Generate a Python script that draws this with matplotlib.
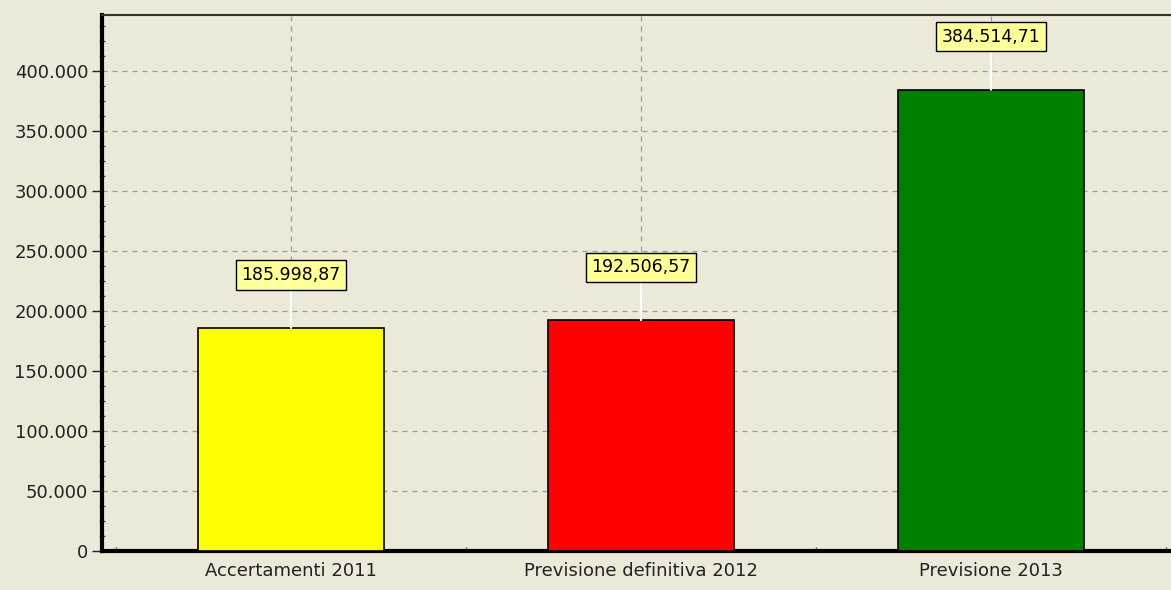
import numpy as np
import matplotlib
matplotlib.use("Agg")
import matplotlib.pyplot as plt
from matplotlib.ticker import MultipleLocator, FuncFormatter

# Chart data
categories = ["Accertamenti 2011", "Previsione definitiva 2012", "Previsione 2013"]
values = [185998.87, 192506.57, 384514.71]
bar_colors = ["#FFFF00", "#FF0000", "#008000"]


def fmt_thousands(v, pos=None):
  # Italian style: dot as thousands separator
  return "{:,.0f}".format(v).replace(",", ".")


def fmt_value(v):
  s = "{:,.2f}".format(v)
  return s.replace(",", "X").replace(".", ",").replace("X", ".")


bg = "#ECE9D8"
fig = plt.figure(figsize=(11.71, 5.90), dpi=100, facecolor=bg)
ax = fig.add_axes([102 / 1171, 1 - 551 / 590, 1078 / 1171, 536 / 590])
ax.set_facecolor(bg)

x = np.arange(len(categories))
ax.bar(x, values, width=0.53, color=bar_colors, edgecolor="black", linewidth=1.2, zorder=3)

ax.set_xlim(-0.54, 2.54)
ax.set_ylim(0, 446700)

ax.yaxis.set_major_locator(MultipleLocator(50000))
ax.yaxis.set_minor_locator(MultipleLocator(12500))
ax.yaxis.set_major_formatter(FuncFormatter(fmt_thousands))
ax.set_xticks(x)
ax.set_xticklabels(categories)
ax.xaxis.set_minor_locator(MultipleLocator(0.25))

ax.grid(True, which="major", color="#9a9a9a", linestyle=(0, (4, 4)), linewidth=0.9, zorder=0)
ax.tick_params(axis="y", which="major", direction="out", length=7, width=1, labelsize=13, pad=3, colors="#222222")
ax.tick_params(axis="y", which="minor", direction="inout", length=4, width=1, color="#555555")
ax.tick_params(axis="x", which="major", direction="in", length=6, width=1, labelsize=13, pad=8, colors="#222222")
ax.tick_params(axis="x", which="minor", direction="in", length=3, width=1, color="#555555")

for s in ["left", "bottom"]:
  ax.spines[s].set_linewidth(3)
  ax.spines[s].set_color("black")
ax.spines["bottom"].set_linestyle((0, (3, 1)))
ax.spines["top"].set_linewidth(1.5)
ax.spines["top"].set_color("#333333")
ax.spines["right"].set_visible(False)

# value labels with connector line
for xi, v in zip(x, values):
  ax.annotate(fmt_value(v), xy=(xi, v), xytext=(0, 38), textcoords="offset points",
              ha="center", va="center", fontsize=12.5, color="black", zorder=5,
              bbox=dict(boxstyle="square,pad=0.32", fc="#FFFF99", ec="black", lw=1),
              arrowprops=dict(arrowstyle="-", color="white", lw=1.6, shrinkA=0, shrinkB=0))

fig.savefig("out.png", dpi=100, facecolor=bg)
